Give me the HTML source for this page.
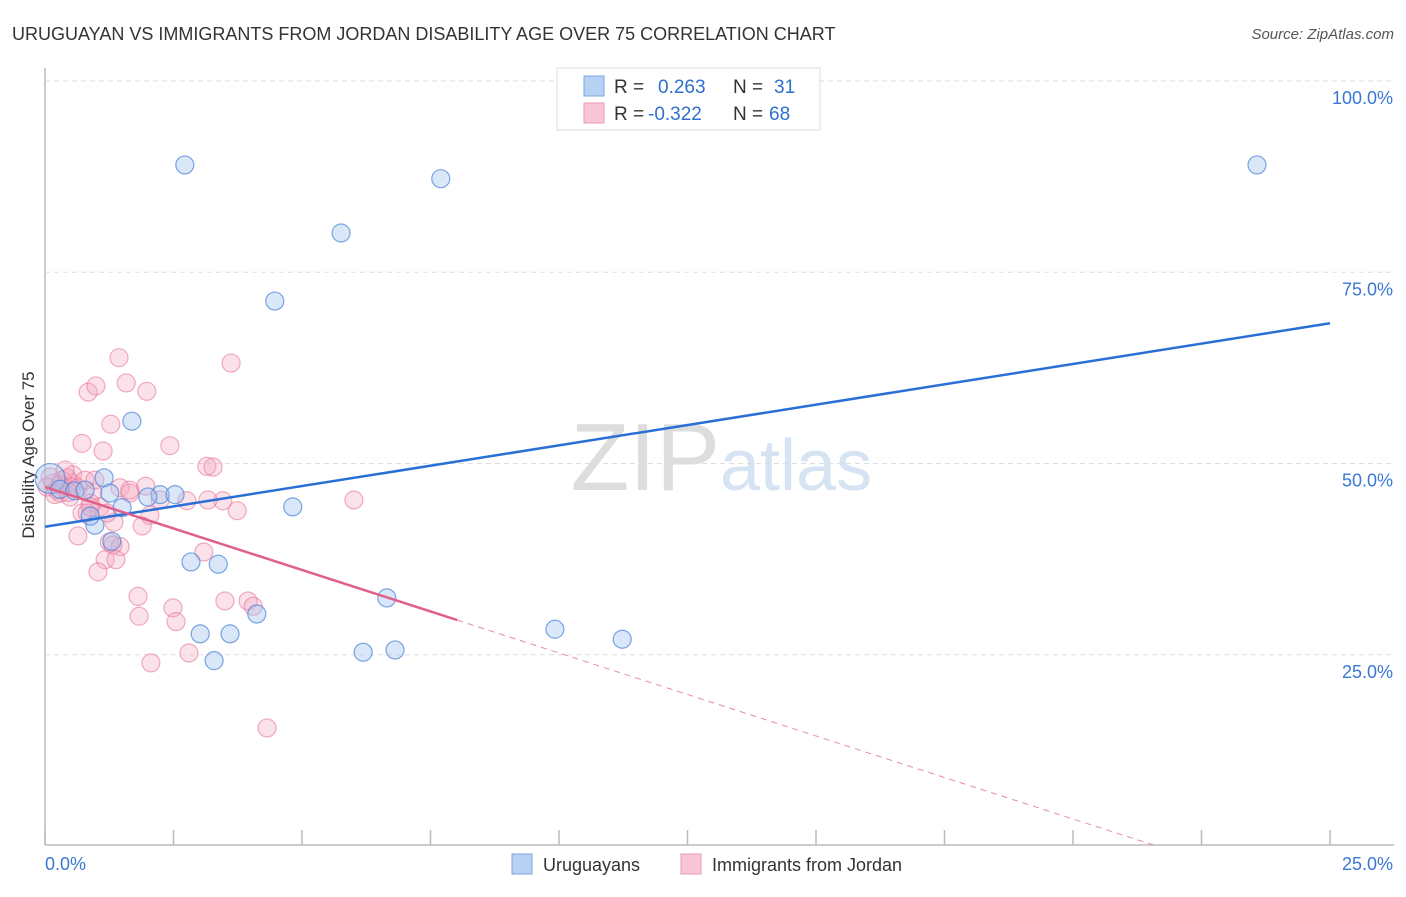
<!DOCTYPE html>
<html><head><meta charset="utf-8"><style>
body{margin:0;background:#fff;font-family:"Liberation Sans",sans-serif}
svg text{font-family:"Liberation Sans",sans-serif}
</style></head><body>
<svg id="c" width="1406" height="892" xmlns="http://www.w3.org/2000/svg">
<text x="12" y="40" font-size="18" fill="#333">URUGUAYAN VS IMMIGRANTS FROM JORDAN DISABILITY AGE OVER 75 CORRELATION CHART</text>
<text x="1394" y="39" font-size="15" fill="#555" font-style="italic" text-anchor="end">Source: ZipAtlas.com</text>
<text x="34" y="455" font-size="17" fill="#333" text-anchor="middle" transform="rotate(-90 34 455)">Disability Age Over 75</text>
<text x="720" y="490" font-size="96" fill="#ddd" text-anchor="end" font-family="Liberation Serif">ZIP</text>
<text x="720" y="490" font-size="72" fill="#d5e3f3">atlas</text>
<g id="grid"></g><g id="pts"></g><g id="lines"></g>
<g>
<rect x="557" y="68" width="263" height="62" fill="#fff" stroke="#ddd"/>
<rect x="584" y="76" width="20" height="20" fill="#b7d1f3" stroke="#7aa6e0"/>
<rect x="584" y="103" width="20" height="20" fill="#f9c6d5" stroke="#ec9ab4"/>
<text x="614" y="93" font-size="19" fill="#333">R =</text><text x="658" y="93" font-size="19" fill="#2f6fd0">0.263</text>
<text x="733" y="93" font-size="19" fill="#333">N =</text><text x="774" y="93" font-size="19" fill="#2f6fd0">31</text>
<text x="614" y="120" font-size="19" fill="#333">R =</text><text x="648" y="120" font-size="19" fill="#2f6fd0">-0.322</text>
<text x="733" y="120" font-size="19" fill="#333">N =</text><text x="769" y="120" font-size="19" fill="#2f6fd0">68</text>
</g>
<g>
<rect x="512" y="854" width="20" height="20" fill="#b7d1f3" stroke="#7aa6e0"/>
<text x="543" y="871" font-size="18" fill="#333">Uruguayans</text>
<rect x="681" y="854" width="20" height="20" fill="#f9c6d5" stroke="#ec9ab4"/>
<text x="712" y="871" font-size="18" fill="#333">Immigrants from Jordan</text>
</g>
</svg>
<script>
const yTicks=[25,50,75,100];
const xTickLabels=["0.0%","25.0%"];
const blueX=[2.72,7.70,23.58,5.76,4.47,1.69,1.15,2.24,2.53,2.00,1.50,4.82,0.97,1.30,2.84,3.37,6.65,4.12,9.92,11.23,3.02,3.60,3.29,6.19,6.81,0.10,0.29,0.58,0.88,1.26,0.78];
const blueY=[88.9,87.1,88.9,80.0,71.1,55.4,48.0,45.8,45.8,45.5,44.1,44.2,41.8,39.7,37.0,36.7,32.3,30.2,28.2,26.9,27.6,27.6,24.1,25.2,25.5,47.9,46.5,46.3,43.0,46.0,46.4];
const pinkX=[1.44,3.62,0.84,0.99,1.58,1.98,1.28,0.72,1.13,2.43,3.15,3.27,6.01,3.74,3.46,3.17,2.76,1.96,1.46,1.65,0.54,0.53,0.29,0.93,1.07,0.88,0.72,1.34,1.89,2.04,0.64,1.25,1.46,1.32,1.17,1.38,1.03,3.09,1.81,1.83,2.49,2.55,3.50,3.95,4.05,2.80,2.06,4.32,0.82,0.16,0.23,0.43,0.10,0.54,0.04,0.33,0.49,0.64,0.88,1.21,0.29,0.19,0.39,0.45,0.78,0.97,1.65,2.24];
const pinkY=[63.7,63.0,59.2,60.0,60.4,59.3,55.0,52.5,51.5,52.2,49.5,49.4,45.1,43.7,45.0,45.1,45.0,46.9,46.7,46.0,48.4,47.3,46.0,46.1,44.2,44.7,43.4,42.2,41.7,43.1,40.4,39.6,39.0,39.2,37.3,37.3,35.7,38.3,32.5,29.9,31.0,29.2,31.9,31.9,31.2,25.1,23.8,15.3,43.4,47.3,46.4,48.0,48.1,46.8,46.8,47.7,45.5,46.7,44.2,43.4,47.1,45.8,49.0,46.1,47.7,47.7,46.4,45.1];
const blueTrend=[41.6,68.2];
const pinkTrend=[46.8,-2.17];
const NS="http://www.w3.org/2000/svg";
const X=v=>45+v*51.4, Y=v=>845-v*7.65;
function mk(p,t,a){const e=document.createElementNS(NS,t);for(const k in a)e.setAttribute(k,a[k]);p.appendChild(e);return e;}
const grid=document.getElementById('grid');
mk(grid,'line',{x1:45,y1:68,x2:45,y2:845,stroke:'#bbb','stroke-width':1.5});
mk(grid,'line',{x1:45,y1:845,x2:1394,y2:845,stroke:'#bbb','stroke-width':1.5});
for(let i=0;i<=10;i++){const l=mk(grid,'line',{x1:X(i*2.5),y1:830,x2:X(i*2.5),y2:845,stroke:'#bbb','stroke-width':1.5});

}
yTicks.forEach(v=>{const l=mk(grid,'line',{x1:45,y1:Y(v)+1,x2:1394,y2:Y(v)+1,stroke:'#ddd','stroke-dasharray':'5,4'});


const t=mk(grid,'text',{x:1393,y:Y(v)+24,'font-size':18,fill:'#3a78d4','text-anchor':'end'});t.textContent=v.toFixed(1)+'%';

});
const t0=mk(grid,'text',{x:45,y:870,'font-size':18,fill:'#3a78d4'});t0.textContent=xTickLabels[0];


const t1=mk(grid,'text',{x:1393,y:870,'font-size':18,fill:'#3a78d4','text-anchor':'end'});t1.textContent=xTickLabels[1];


const pts=document.getElementById('pts');
pinkX.forEach((x,i)=>{const c=mk(pts,'circle',{cx:X(x),cy:Y(pinkY[i]),r:9,fill:'rgba(244,170,194,0.35)',stroke:'rgba(232,120,155,0.6)','stroke-width':1.2});

});
blueX.forEach((x,i)=>{const c=mk(pts,'circle',{cx:X(x),cy:Y(blueY[i]),r:i==25?15:9,fill:'rgba(160,196,240,0.4)',stroke:'rgba(70,130,215,0.7)','stroke-width':1.2});

});
const lines=document.getElementById('lines');
const bl=mk(lines,'line',{x1:X(0),y1:Y(blueTrend[0]),x2:X(25),y2:Y(blueTrend[1]),stroke:'#2a6fd6','stroke-width':2.5});


const pe=8.02, pz=-pinkTrend[0]/pinkTrend[1];
const pl=mk(lines,'line',{x1:X(0),y1:Y(pinkTrend[0]),x2:X(pe),y2:Y(pinkTrend[0]+pinkTrend[1]*pe),stroke:'#e0608a','stroke-width':2.5});


const pd=mk(lines,'line',{x1:X(pe),y1:Y(pinkTrend[0]+pinkTrend[1]*pe),x2:X(pz),y2:Y(0),stroke:'#e88aa6','stroke-width':1,'stroke-dasharray':'6,5'});


</script>
</body></html>
